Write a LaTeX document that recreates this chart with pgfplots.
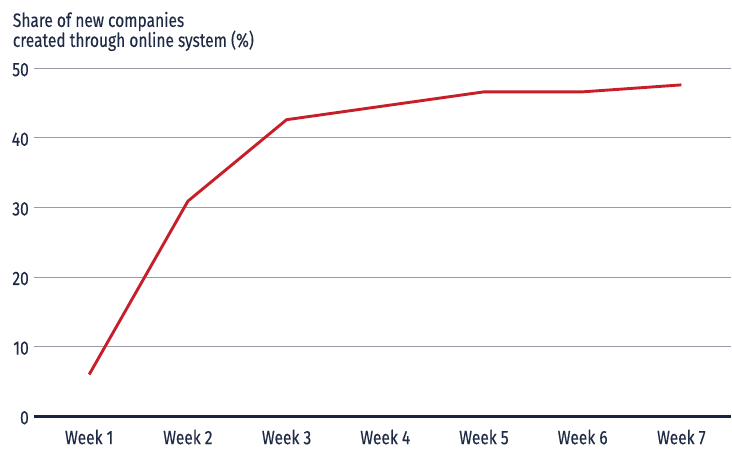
\documentclass[border=0pt]{standalone}
\usepackage{pgfplots}
\pgfplotsset{compat=1.18}
\usepackage{fontspec}
\setmainfont{Fira Sans}[FakeStretch=0.8, FakeBold=0.25]
\definecolor{txt}{HTML}{1F2B45}
\definecolor{gridc}{HTML}{9C9AAA}
\definecolor{base}{HTML}{16243F}
\definecolor{redl}{HTML}{C71F2A}
\begin{document}
\begin{tikzpicture}
\begin{axis}[
  scale only axis,
  width=698bp, height=348.7bp,
  xmin=0.44, xmax=7.5, ymin=0, ymax=50,
  axis x line*=bottom, axis y line*=left,
  x axis line style={draw=base, line width=2.6bp, -},
  y axis line style={draw=none},
  major tick length=0pt,
  xtick={1,...,7},
  xticklabels={Week 1,Week 2,Week 3,Week 4,Week 5,Week 6,Week 7},
  ytick={0,10,...,50},
  ymajorgrids,
  grid style={draw=gridc, line width=1bp},
  xticklabel style={anchor=base, inner sep=0pt, yshift=-28bp},
  yticklabel style={anchor=east, inner sep=0pt, xshift=-5bp, yshift=-1.5bp},
  ticklabel style={font=\fontsize{19.5}{22}\selectfont, text=txt},
  /pgf/number format/assume math mode=true,
  clip=false,
]
\addplot[redl, line width=2.9bp, line join=round] coordinates {
  (1,6.0) (2,30.9) (3,42.6) (4,44.6) (5,46.6) (6,46.6) (7,47.6)
};
\node[anchor=base west, inner sep=0pt, text=txt, font=\fontsize{19.5}{22}\selectfont]
  at (rel axis cs:0,1) [xshift=-21.3bp, yshift=41.3bp] {Share of new companies};
\node[anchor=base west, inner sep=0pt, text=txt, font=\fontsize{19.5}{22}\selectfont]
  at (rel axis cs:0,1) [xshift=-21.3bp, yshift=21.3bp] {created through online system (\%)};
\end{axis}
\path[use as bounding box] (current axis.south west) ++(-34bp,-33bp) rectangle ++(732bp,450bp);
\end{tikzpicture}
\end{document}
